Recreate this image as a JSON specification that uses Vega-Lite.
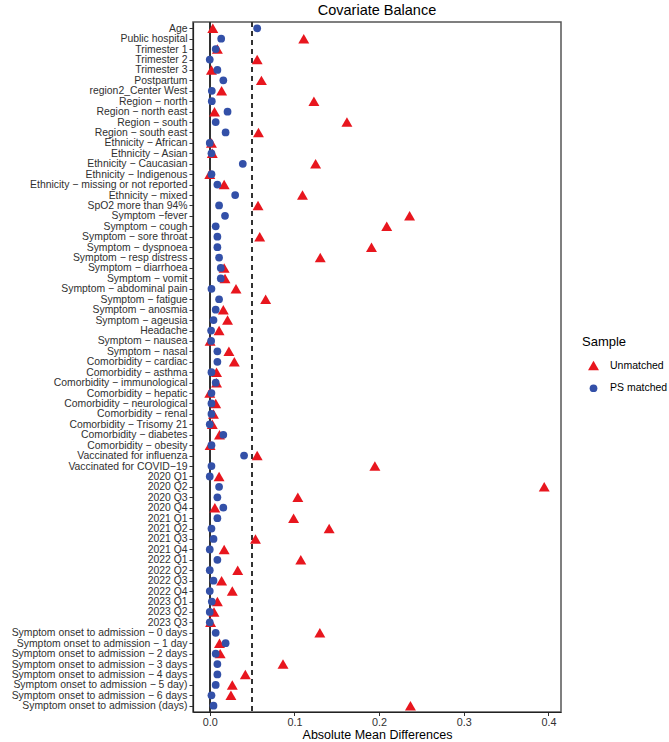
{
  "$schema": "https://vega.github.io/schema/vega-lite/v6.json",
  "width": 368,
  "height": 690,
  "autosize": {"type": "none"},
  "padding": {"left": 193, "top": 22, "right": 108, "bottom": 30},
  "background": "white",
  "title": {
    "text": "Covariate Balance",
    "fontSize": 14.5,
    "fontWeight": "normal",
    "font": "Liberation Sans",
    "color": "#000000",
    "offset": 3
  },
  "config": {
    "font": "Liberation Sans",
    "view": {"stroke": "#555555", "strokeWidth": 1.5},
    "axis": {
      "grid": false,
      "domainColor": "#222222",
      "domainWidth": 1.2,
      "tickColor": "#333333",
      "tickSize": 4,
      "labelColor": "#303030",
      "labelFont": "Liberation Sans",
      "titleFont": "Liberation Sans",
      "titleFontWeight": "normal",
      "titleColor": "#000000"
    },
    "legend": {
      "labelFont": "Liberation Sans",
      "titleFont": "Liberation Sans"
    }
  },
  "data": {
    "values": [
      {"covariate": "Age", "Unmatched": 0.0036, "PS matched": 0.056},
      {"covariate": "Public hospital", "Unmatched": 0.111, "PS matched": 0.0135},
      {"covariate": "Trimester 1", "Unmatched": 0.009, "PS matched": 0.007},
      {"covariate": "Trimester 2", "Unmatched": 0.056, "PS matched": 0.0},
      {"covariate": "Trimester 3", "Unmatched": 0.002, "PS matched": 0.009},
      {"covariate": "Postpartum", "Unmatched": 0.061, "PS matched": 0.016},
      {"covariate": "region2_Center West", "Unmatched": 0.014, "PS matched": 0.0024},
      {"covariate": "Region − north", "Unmatched": 0.123, "PS matched": 0.0024},
      {"covariate": "Region − north east", "Unmatched": 0.0056, "PS matched": 0.021},
      {"covariate": "Region − south", "Unmatched": 0.162, "PS matched": 0.007},
      {"covariate": "Region − south east", "Unmatched": 0.0575, "PS matched": 0.0187},
      {"covariate": "Ethnicity − African", "Unmatched": 0.002, "PS matched": 0.0},
      {"covariate": "Ethnicity − Asian", "Unmatched": 0.003, "PS matched": 0.002},
      {"covariate": "Ethnicity − Caucasian", "Unmatched": 0.125, "PS matched": 0.039},
      {"covariate": "Ethnicity − Indigenous", "Unmatched": 0.0, "PS matched": 0.002},
      {"covariate": "Ethnicity − missing or not reported", "Unmatched": 0.017, "PS matched": 0.009},
      {"covariate": "Ethnicity − mixed", "Unmatched": 0.1095, "PS matched": 0.03},
      {"covariate": "SpO2 more than 94%", "Unmatched": 0.057, "PS matched": 0.011},
      {"covariate": "Symptom −fever", "Unmatched": 0.236, "PS matched": 0.018},
      {"covariate": "Symptom − cough", "Unmatched": 0.209, "PS matched": 0.007},
      {"covariate": "Symptom − sore throat", "Unmatched": 0.059, "PS matched": 0.009},
      {"covariate": "Symptom − dyspnoea", "Unmatched": 0.191, "PS matched": 0.009},
      {"covariate": "Symptom − resp distress", "Unmatched": 0.1305, "PS matched": 0.011},
      {"covariate": "Symptom − diarrhoea", "Unmatched": 0.017, "PS matched": 0.013},
      {"covariate": "Symptom − vomit", "Unmatched": 0.018, "PS matched": 0.013},
      {"covariate": "Symptom − abdominal pain", "Unmatched": 0.031, "PS matched": 0.002},
      {"covariate": "Symptom − fatigue", "Unmatched": 0.066, "PS matched": 0.011},
      {"covariate": "Symptom − anosmia", "Unmatched": 0.016, "PS matched": 0.007},
      {"covariate": "Symptom − ageusia", "Unmatched": 0.021, "PS matched": 0.0044},
      {"covariate": "Headache", "Unmatched": 0.011, "PS matched": 0.0016},
      {"covariate": "Symptom − nausea", "Unmatched": 0.0004, "PS matched": 0.0016},
      {"covariate": "Symptom − nasal", "Unmatched": 0.0226, "PS matched": 0.009},
      {"covariate": "Comorbidity − cardiac", "Unmatched": 0.029, "PS matched": 0.009},
      {"covariate": "Comorbidity − asthma", "Unmatched": 0.008, "PS matched": 0.002},
      {"covariate": "Comorbidity − immunological", "Unmatched": 0.008, "PS matched": 0.007},
      {"covariate": "Comorbidity − hepatic", "Unmatched": 0.0, "PS matched": 0.002},
      {"covariate": "Comorbidity − neurological", "Unmatched": 0.007, "PS matched": 0.002},
      {"covariate": "Comorbidity − renal", "Unmatched": 0.0044, "PS matched": 0.002},
      {"covariate": "Comorbidity − Trisomy 21", "Unmatched": 0.003, "PS matched": 0.0},
      {"covariate": "Comorbidity − diabetes", "Unmatched": 0.0115, "PS matched": 0.016},
      {"covariate": "Comorbidity − obesity", "Unmatched": 0.0004, "PS matched": 0.002},
      {"covariate": "Vaccinated for influenza", "Unmatched": 0.056, "PS matched": 0.0405},
      {"covariate": "Vaccinated for COVID−19", "Unmatched": 0.195, "PS matched": 0.002},
      {"covariate": "2020 Q1", "Unmatched": 0.011, "PS matched": 0.0},
      {"covariate": "2020 Q2", "Unmatched": 0.395, "PS matched": 0.011},
      {"covariate": "2020 Q3", "Unmatched": 0.104, "PS matched": 0.009},
      {"covariate": "2020 Q4", "Unmatched": 0.006, "PS matched": 0.016},
      {"covariate": "2021 Q1", "Unmatched": 0.099, "PS matched": 0.009},
      {"covariate": "2021 Q2", "Unmatched": 0.141, "PS matched": 0.002},
      {"covariate": "2021 Q3", "Unmatched": 0.054, "PS matched": 0.0044},
      {"covariate": "2021 Q4", "Unmatched": 0.017, "PS matched": 0.0},
      {"covariate": "2022 Q1", "Unmatched": 0.1075, "PS matched": 0.009},
      {"covariate": "2022 Q2", "Unmatched": 0.033, "PS matched": 0.0},
      {"covariate": "2022 Q3", "Unmatched": 0.014, "PS matched": 0.0044},
      {"covariate": "2022 Q4", "Unmatched": 0.0266, "PS matched": 0.0},
      {"covariate": "2023 Q1", "Unmatched": 0.009, "PS matched": 0.0024},
      {"covariate": "2023 Q2", "Unmatched": 0.005, "PS matched": 0.0},
      {"covariate": "2023 Q3", "Unmatched": 0.001, "PS matched": 0.0},
      {"covariate": "Symptom onset to admission − 0 days", "Unmatched": 0.13, "PS matched": 0.007},
      {"covariate": "Symptom onset to admission − 1 day", "Unmatched": 0.0115, "PS matched": 0.0187},
      {"covariate": "Symptom onset to admission − 2 days", "Unmatched": 0.0123, "PS matched": 0.007},
      {"covariate": "Symptom onset to admission − 3 days", "Unmatched": 0.0865, "PS matched": 0.009},
      {"covariate": "Symptom onset to admission − 4 days", "Unmatched": 0.042, "PS matched": 0.009},
      {"covariate": "Symptom onset to admission − 5 day)", "Unmatched": 0.0266, "PS matched": 0.007},
      {"covariate": "Symptom onset to admission − 6 days", "Unmatched": 0.025, "PS matched": 0.002},
      {"covariate": "Symptom onset to admission (days)", "Unmatched": 0.237, "PS matched": 0.0044}
    ]
  },
  "transform": [
    {"fold": ["Unmatched", "PS matched"], "as": ["Sample", "diff"]}
  ],
  "encoding": {
    "x": {
      "field": "diff",
      "type": "quantitative",
      "scale": {"domain": [-0.0198, 0.4148], "nice": false, "zero": false},
      "axis": {
        "values": [0, 0.1, 0.2, 0.3, 0.4],
        "format": ".1f",
        "labelFontSize": 10.8,
        "labelPadding": 1,
        "tickSize": 3.5,
        "title": "Absolute Mean Differences",
        "titleFontSize": 12.5,
        "titleBaseline": "alphabetic",
        "titleY": 26
      }
    },
    "y": {
      "field": "covariate",
      "type": "nominal",
      "sort": null,
      "scale": {"type": "point", "padding": 0.6},
      "axis": {"title": null, "labelFontSize": 10.4, "labelLimit": 400, "labelPadding": 2}
    }
  },
  "layer": [
    {
      "mark": {"type": "rule", "color": "#333333", "strokeWidth": 1.3},
      "encoding": {"x": {"datum": 0}, "y": null}
    },
    {
      "mark": {"type": "rule", "color": "#333333", "strokeWidth": 1.3, "strokeDash": [5, 4]},
      "encoding": {"x": {"datum": 0.05}, "y": null}
    },
    {
      "mark": {"type": "point", "filled": true, "opacity": 1, "strokeWidth": 0},
      "encoding": {
        "shape": {
          "field": "Sample",
          "type": "nominal",
          "scale": {"domain": ["Unmatched", "PS matched"], "range": ["triangle-up", "circle"]},
          "legend": {
            "orient": "none",
            "legendX": 389,
            "legendY": 314,
            "title": "Sample",
            "titleFontSize": 13,
            "titleFontWeight": "normal",
            "titleColor": "#000000",
            "titlePadding": 10,
            "labelFontSize": 10.5,
            "labelColor": "#000000",
            "labelOffset": 10,
            "rowPadding": 12,
            "symbolOffset": 5,
            "padding": 0
          }
        },
        "color": {
          "field": "Sample",
          "type": "nominal",
          "scale": {"domain": ["Unmatched", "PS matched"], "range": ["#E8161E", "#3350A8"]}
        },
        "size": {
          "field": "Sample",
          "type": "nominal",
          "scale": {"domain": ["Unmatched", "PS matched"], "range": [120, 60]}
        }
      }
    }
  ]
}
